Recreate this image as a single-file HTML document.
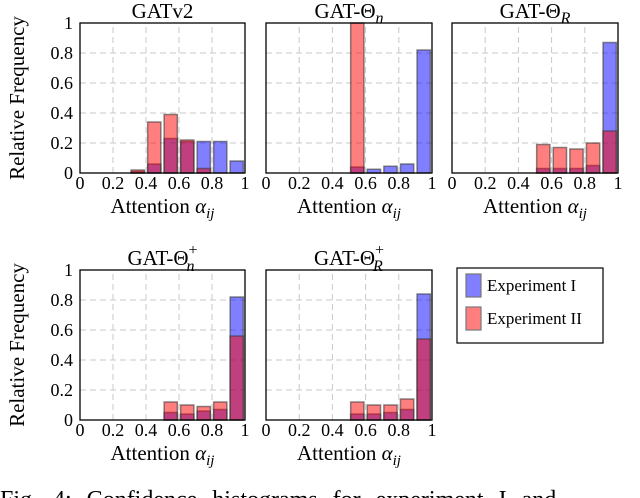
<!DOCTYPE html>
<html><head><meta charset="utf-8"><style>
body{margin:0;background:#fff;}
svg{display:block;font-family:"Liberation Serif","DejaVu Serif",serif;}
svg text{font-family:"Liberation Serif","DejaVu Serif",serif;}
</style></head><body>
<svg id="c" width="640" height="498" viewBox="0 0 640 498" font-family="Liberation Serif, serif"></svg>
<script>
const binCenters=[0.05,0.15,0.25,0.35,0.45,0.55,0.65,0.75,0.85,0.95];
const titles=["GATv2","GAT-Θn","GAT-ΘR","GAT-Θn+","GAT-ΘR+"];
const exp1GATv2=[0,0,0,0.01,0.06,0.23,0.21,0.21,0.21,0.08];
const exp2GATv2=[0,0,0,0.02,0.34,0.39,0.22,0.03,0,0];
const exp1ThetaN=[0,0,0,0,0,0.04,0.025,0.045,0.06,0.82];
const exp2ThetaN=[0,0,0,0,0,1.0,0,0,0,0];
const exp1ThetaR=[0,0,0,0,0,0.03,0.03,0.03,0.05,0.87];
const exp2ThetaR=[0,0,0,0,0,0.19,0.17,0.16,0.2,0.28];
const exp1ThetaNp=[0,0,0,0,0,0.05,0.04,0.06,0.07,0.82];
const exp2ThetaNp=[0,0,0,0,0,0.12,0.10,0.09,0.12,0.56];
const exp1ThetaRp=[0,0,0,0,0,0.04,0.04,0.05,0.07,0.84];
const exp2ThetaRp=[0,0,0,0,0,0.12,0.10,0.10,0.14,0.54];
const xTicks=[0,0.2,0.4,0.6,0.8,1];
const xTickLabels=["0","0.2","0.4","0.6","0.8","1"];
const yTicks=[0,0.2,0.4,0.6,0.8,1];
const yTickLabels=["0","0.2","0.4","0.6","0.8","1"];

const NS="http://www.w3.org/2000/svg";
const svg=document.getElementById('c');
function mk(tag,attrs,parent){const e=document.createElementNS(NS,tag);for(const k in attrs)e.setAttribute(k,attrs[k]);if(tag==='text')e.setAttribute('font-family','Liberation Serif, serif');(parent||svg).appendChild(e);return e;}

const panels=[
 {x0:80,x1:245,y0:173,y1:23,e1:exp1GATv2,e2:exp2GATv2,yl:true,t:"GATv2",sub:"",sup:""},
 {x0:266,x1:432,y0:173,y1:23,e1:exp1ThetaN,e2:exp2ThetaN,yl:false,t:"GAT-Θ",sub:"n",sup:""},
 {x0:452,x1:618,y0:173,y1:23,e1:exp1ThetaR,e2:exp2ThetaR,yl:false,t:"GAT-Θ",sub:"R",sup:""},
 {x0:80,x1:245,y0:420,y1:270,e1:exp1ThetaNp,e2:exp2ThetaNp,yl:true,t:"GAT-Θ",sub:"n",sup:"+"},
 {x0:266,x1:432,y0:420,y1:270,e1:exp1ThetaRp,e2:exp2ThetaRp,yl:false,t:"GAT-Θ",sub:"R",sup:"+"}
];
panels.forEach((p,pi)=>{
  const g=mk('g',{});
  
  
  const sx=v=>p.x0+(p.x1-p.x0)*v;
  const sy=v=>p.y0-(p.y0-p.y1)*v;
  xTicks.forEach(t=>{if(t>0&&t<1){const l=mk('line',{x1:sx(t),x2:sx(t),y1:p.y0,y2:p.y1,stroke:'#c8c8c8','stroke-dasharray':'6,4','stroke-width':1},g);}});
  yTicks.forEach(t=>{if(t>0&&t<1){const l=mk('line',{x1:p.x0,x2:p.x1,y1:sy(t),y2:sy(t),stroke:'#c8c8c8','stroke-dasharray':'6,4','stroke-width':1},g);}});
  [[p.e1,'rgba(0,0,255,0.5)','exp1'],[p.e2,'rgba(255,0,0,0.5)','exp2']].forEach(([arr,col,nm])=>{
    arr.forEach((v,i)=>{ if(v<=0)return;
      const c=binCenters[i];
      const r=mk('rect',{x:sx(c-0.04),y:sy(v),width:sx(c+0.04)-sx(c-0.04),height:sy(0)-sy(v),fill:col,stroke:'rgba(60,60,60,0.6)','stroke-width':1.5},g);
      
      
    });
  });
  const fr=mk('rect',{x:p.x0,y:p.y1,width:p.x1-p.x0,height:p.y0-p.y1,fill:'none',stroke:'#000','stroke-width':1.3},g);
  
  
  xTicks.forEach((t,i)=>{const tx=mk('text',{x:sx(t),y:p.y0+16,'font-size':18,'text-anchor':'middle'},g);tx.textContent=xTickLabels[i];});
  if(p.yl){yTicks.forEach((t,i)=>{const tx=mk('text',{x:p.x0-7,y:sy(t)+6,'font-size':18,'text-anchor':'end'},g);tx.textContent=yTickLabels[i];});
    const cy=(p.y0+p.y1)/2;
    const yt=mk('text',{x:24,y:cy,'font-size':21,'text-anchor':'middle',transform:`rotate(-90 24 ${cy})`},g);yt.textContent='Relative Frequency';}
  const xl=mk('text',{x:(p.x0+p.x1)/2,y:p.y0+40,'font-size':21,'text-anchor':'middle'},g);
  
  xl.innerHTML='Attention <tspan font-style="italic">α</tspan><tspan font-style="italic" font-size="15" dy="5">ij</tspan>';
  const tt=mk('text',{x:(p.x0+p.x1)/2,y:p.y1-5,'font-size':21,'text-anchor':'middle'},g);
  
  let h=p.t;
  if(p.sup)h+='<tspan font-size="16" dy="-10">+</tspan><tspan font-style="italic" font-size="16" dx="-11" dy="16">'+p.sub+'</tspan>';
  else if(p.sub)h+='<tspan font-style="italic" font-size="16" dy="5">'+p.sub+'</tspan>';
  tt.innerHTML=h;
});
const lg=mk('g',{});


mk('rect',{x:457,y:268,width:146,height:75,fill:'#fff',stroke:'#000','stroke-width':1.2},lg);
[['Experiment I','rgba(0,0,255,0.5)',274],['Experiment II','rgba(255,0,0,0.5)',307]].forEach(([t,c,y])=>{
  const e=mk('g',{},lg);
  
  
  mk('rect',{x:466,y:y,width:15,height:23,fill:c,stroke:'#777','stroke-width':1.2},e);
  const tx=mk('text',{x:487,y:y+17,'font-size':17},e);tx.textContent=t;
});
const cap=mk('text',{x:0,y:507,'font-size':24,'word-spacing':'9'});


cap.textContent='Fig. 4: Confidence histograms for experiment I and';
</script>
</body></html>
